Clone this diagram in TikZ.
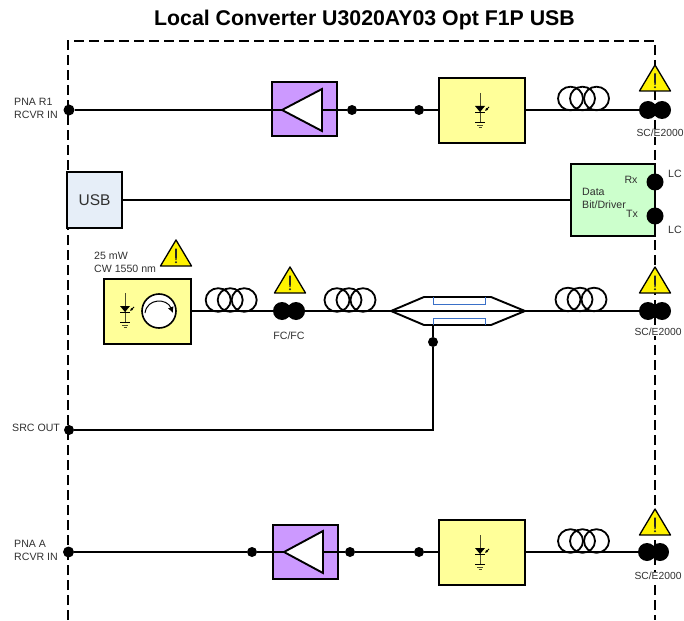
\documentclass[tikz,border=0pt]{standalone}
\usepackage{fontspec}
\setmainfont{Liberation Sans}
\usetikzlibrary{shapes.geometric,arrows.meta}
\definecolor{ampfill}{HTML}{CC99FF}
\definecolor{ledfill}{HTML}{FFFF99}
\definecolor{bitfill}{HTML}{CCFFCC}
\definecolor{usbfill}{HTML}{E6EEF8}
\definecolor{txt}{HTML}{303030}
\definecolor{cpblue}{HTML}{3A70C8}
\tikzset{
  wire/.style={draw=black,line width=1.9pt},
  framel/.style={draw=black,line width=1.9pt,dash pattern=on 10pt off 5pt},
  box/.style={draw=black,line width=2pt,inner sep=0pt,outer sep=0pt},
  ampbox/.style={box,fill=ampfill,minimum width=65pt,minimum height=54pt},
  ledbox/.style={box,fill=ledfill,minimum width=86pt,minimum height=65pt},
  dotn/.style={circle,fill=black,inner sep=0pt,minimum size=10pt},
  conn/.style={circle,fill=black,inner sep=0pt,minimum size=18pt},
  lc/.style={circle,fill=black,inner sep=0pt,minimum size=17pt},
  lab/.style={text=txt,font=\fontsize{10.6}{13}\selectfont,align=left,inner sep=0pt},
  sclab/.style={text=txt,fill=white,font=\fontsize{10.3}{13}\selectfont,inner sep=0.5pt},
  coil/.style={draw=black,line width=1.8pt},
  tri/.style={draw=black,line width=1.9pt,fill=white,line join=miter},
  warnshape/.style={draw=black,line width=1.3pt,fill=yellow,line join=round}
}
\newcommand{\coilset}[2]{%
  \draw[coil] (#1-12,#2) circle[x radius=12.5,y radius=11.8];
  \draw[coil] (#1,#2) circle[x radius=12.5,y radius=11.8];
  \draw[coil] (#1+14,#2) circle[x radius=12.5,y radius=11.8];}
\newcommand{\warnsign}[2]{%
  \draw[warnshape] (#1,#2) -- (#1+15.5,#2+26) -- (#1-15.5,#2+26) -- cycle;
  \fill[black!85] (#1-1,#2+8.5) -- (#1+1,#2+8.5) -- (#1+0.7,#2+20) -- (#1-0.7,#2+20) -- cycle;
  \fill[black!85] (#1,#2+22.3) circle[radius=1.1];}
\newcommand{\laser}[2]{%
  \draw[draw=black!70!ledfill,line width=0.9pt] (#1,#2-17) -- (#1,#2+12);
  \fill[black] (#1-5,#2-4) -- (#1+5,#2-4) -- (#1,#2+2) -- cycle;
  \draw[black,line width=0.8pt] (#1-5,#2+2) -- (#1+5,#2+2);
  \draw[black,line width=0.8pt] (#1-5,#2+12) -- (#1+5,#2+12);
  \draw[black!70!ledfill,line width=0.7pt] (#1-3,#2+15) -- (#1+3,#2+15);
  \draw[black!70!ledfill,line width=0.7pt] (#1-1.5,#2+17) -- (#1+1.5,#2+17);
  \draw[black,line width=0.8pt,-{Latex[length=3pt,width=3pt]}] (#1+9,#2-3) -- (#1+5,#2+1);}
\begin{document}
\begin{tikzpicture}[x=1pt,y=-1pt]
\useasboundingbox (0,0) rectangle (684,620);
% frame
\draw[framel] (68,620) -- (68,41) -- (655,41) -- (655,620);
\node[font=\bfseries\fontsize{21.3}{25}\selectfont,text=black,inner sep=0pt] (title) at (364.5,20) {Local Converter U3020AY03 Opt F1P USB};
% ---- row 1
\node[dotn,minimum size=11pt] (in1) at (69,110) {};
\node[ampbox] (amp1) at (304,109.5) {};
\node[dotn] (d1a) at (352,110) {};
\node[dotn] (d1b) at (419,110) {};
\node[ledbox] (led1) at (482,110.5) {};
\node[conn] (c1a) at (648,110) {};
\node[conn] (c1b) at (662,110) {};
\draw[wire] (in1) -- (d1a) -- (d1b) -- (d1b -| led1.west);
\draw[wire] (c1a -| led1.east) -- (c1a);
\draw[tri] (282,110) -- (322,89) -- (322,131) -- cycle;
\laser{480}{110}
\coilset{582.5}{98.5}
\warnsign{655}{65}
\node[sclab] (lb1) at (660,133) {SC/E2000};
\node[lab,anchor=west] (pna1) at (14,108) {PNA R1\\RCVR IN};
% ---- row 2
\node[box,fill=usbfill,minimum width=55pt,minimum height=56pt,font=\fontsize{15.5}{18}\selectfont,text=txt] (usb) at (94.5,200) {USB};
\node[box,fill=bitfill,minimum width=84pt,minimum height=72pt] (bit) at (613,200) {};
\draw[wire] (usb.east) -- (bit.west);
\node[lc] (rx) at (655,182) {};
\node[lc] (tx) at (655,216) {};
\node[lab,anchor=west] (data) at (582,198) {Data\\Bit/Driver};
\node[lab] at (631,180) (rxl) {Rx};
\node[lab] at (632,214) (txl) {Tx};
\node[lab] at (675,174) (lc1) {LC};
\node[lab] at (675,230) (lc2) {LC};
% ---- row 3
\node[box,fill=ledfill,minimum width=87pt,minimum height=65pt] (src) at (147.5,311) {};
\laser{125}{310}
\node[circle,draw=black,line width=1.6pt,fill=white,minimum size=34pt,inner sep=0pt] (rot) at (159,311) {};
\draw[black,line width=1pt,-{Latex[length=6pt,width=6pt]}] (145,313) .. controls (147,298) and (167,298) .. (173,313);
\node[lab,anchor=west] (pwr) at (94,262) {25 mW\\CW 1550 nm};
\warnsign{176}{240}
\node[conn] (fc1) at (282,311) {};
\node[conn] (fc2) at (296,311) {};
\warnsign{290}{267}
\node[lab] (fcl) at (289,336) {FC/FC};
\draw[wire] (src.east) -- (fc1);
\coilset{230.2}{300}
\coordinate (cpW) at (391,311);
\coordinate (cpE) at (525,311);
\draw[line width=1.9pt,fill=white,line join=miter] (cpW) -- (424,297) -- (491,297) -- (cpE) -- (491,325) -- (424,325) -- cycle;
\draw[draw=cpblue,line width=1pt] (433,297) -- (433,304) -- (485,304) -- (485,297);
\draw[draw=cpblue,line width=1pt] (433,325) -- (433,318) -- (485,318) -- (485,325);
\node[conn] (sc3a) at (648,311) {};
\node[conn] (sc3b) at (662,311) {};
\draw[wire] (fc2) -- (cpW) -- (cpE) -- (sc3a);
\coilset{349}{300}
\coilset{580}{299.5}
\warnsign{655}{267}
\node[sclab] (lb3) at (658,332) {SC/E2000};
% ---- src out
\node[dotn] (srcout) at (69,430) {};
\node[dotn] (d3) at (433,342) {};
\coordinate (cpS) at (433,325);
\draw[wire] (srcout) -- (d3 |- srcout) -- (d3) -- (cpS);
\node[lab,anchor=west] (sol) at (12,428) {SRC OUT};
% ---- row 5
\node[lab,anchor=west] (pna2) at (14,550.5) {PNA A\\RCVR IN};
\node[dotn,minimum size=11pt] (in5) at (68.5,552) {};
\node[dotn] (d5o) at (252,552) {};
\node[ampbox] (amp2) at (305,552) {};
\node[dotn] (d5a) at (350,552) {};
\node[dotn] (d5b) at (419,552) {};
\node[ledbox] (led2) at (482,552.5) {};
\node[conn] (c5a) at (647,552) {};
\node[conn] (c5b) at (660,552) {};
\draw[wire] (in5) -- (d5o) -- (d5a) -- (d5b) -- (d5b -| led2.west);
\draw[wire] (c5a -| led2.east) -- (c5a);
\draw[tri] (284,552) -- (323,531) -- (323,573) -- cycle;
\laser{480}{552}
\coilset{582.5}{541}
\warnsign{655}{509}
\node[sclab] (lb5) at (658,576) {SC/E2000};
\end{tikzpicture}
\end{document}
